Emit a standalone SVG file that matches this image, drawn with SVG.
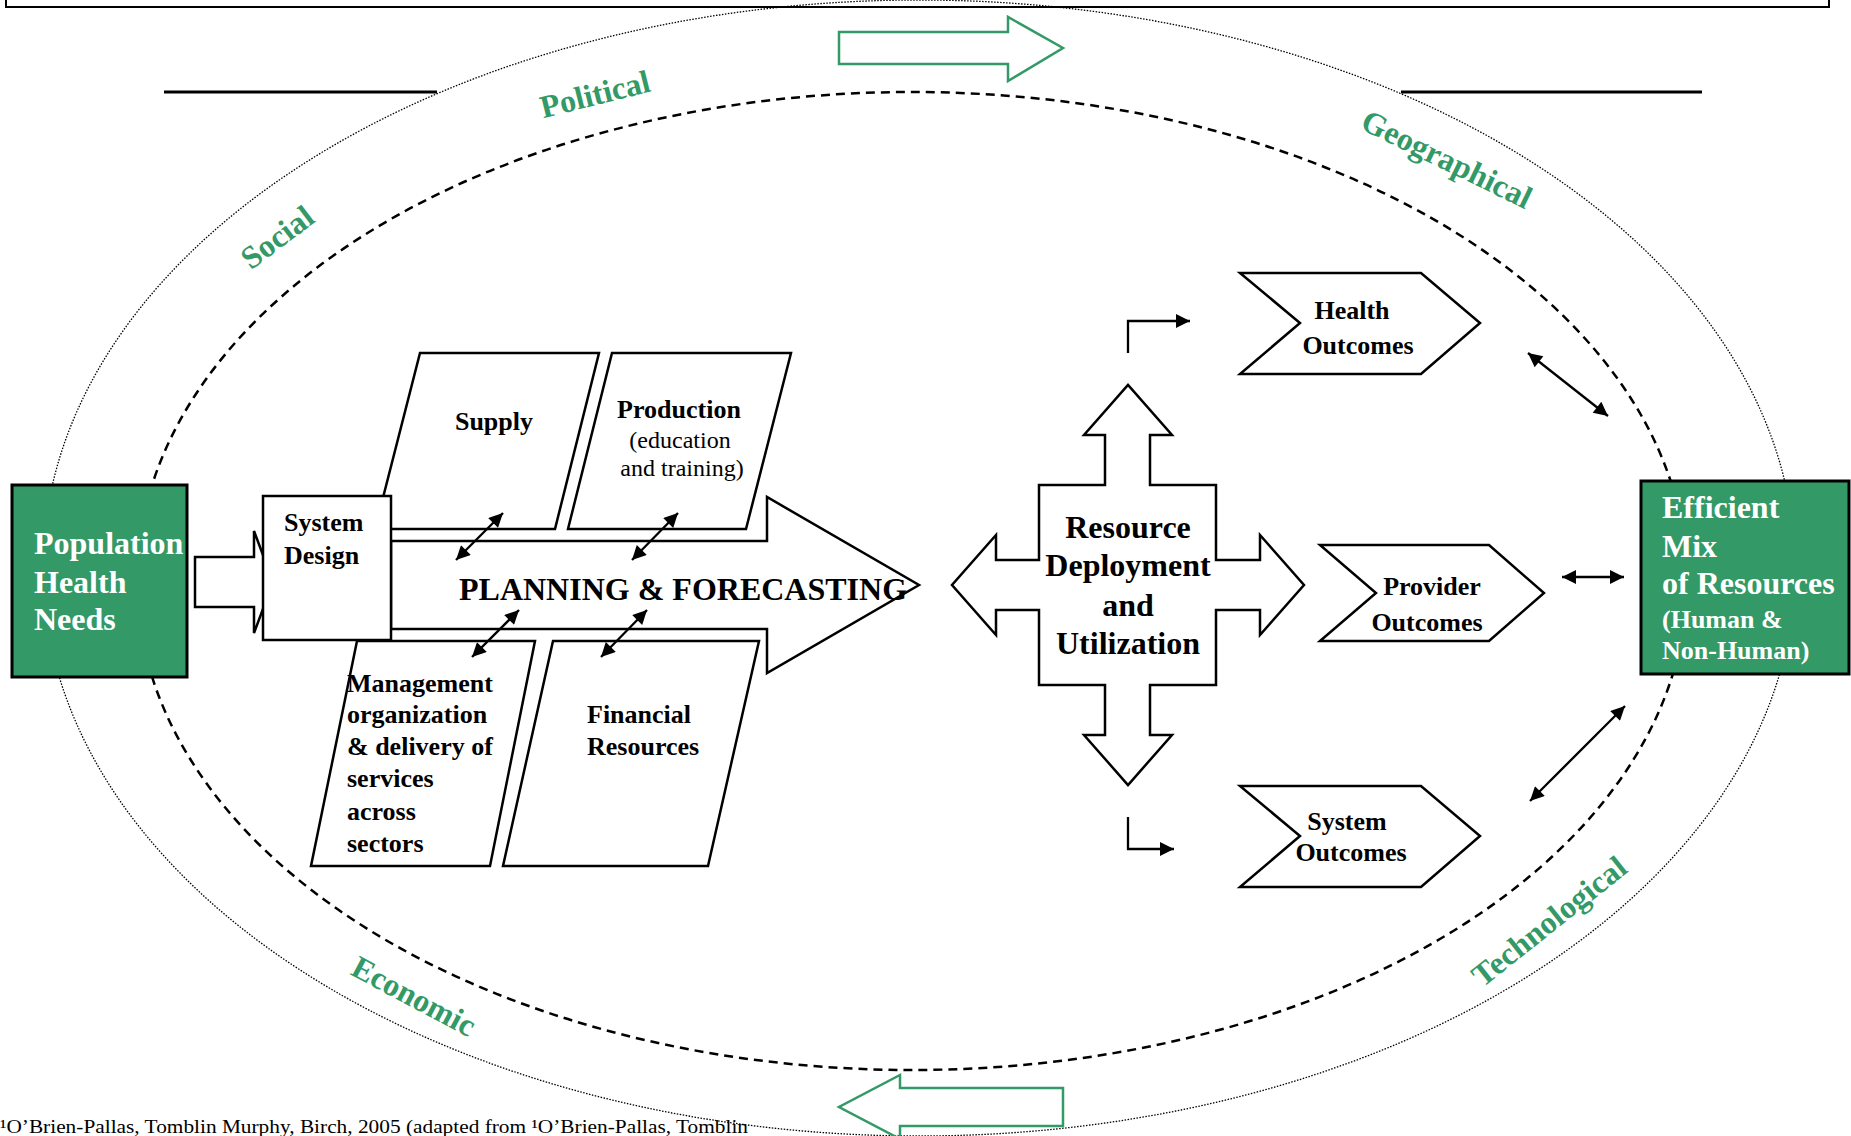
<svg xmlns="http://www.w3.org/2000/svg" width="1851" height="1136" viewBox="0 0 1851 1136">
<defs>
<style>
.shape{fill:#fff;stroke:#000;stroke-width:2.5;stroke-linejoin:miter}
.green{fill:#339966;stroke:#000;stroke-width:3}
.garrow{fill:none;stroke:#339966;stroke-width:2.5}
.t{font-family:"Liberation Serif","Times New Roman",serif;font-weight:bold;fill:#000}
.w{font-family:"Liberation Serif","Times New Roman",serif;font-weight:bold;fill:#fff}
.r{font-family:"Liberation Serif","Times New Roman",serif;font-weight:normal;fill:#000}
.g{font-family:"Liberation Serif","Times New Roman",serif;font-weight:bold;fill:#339966;font-size:32px;text-anchor:middle}
.c{text-anchor:middle}
.conn{stroke:#000;stroke-width:2.3;fill:none}
</style>
<marker id="ah" viewBox="0 0 10 10" refX="10" refY="5" markerWidth="16" markerHeight="14" markerUnits="userSpaceOnUse" orient="auto-start-reverse">
<path d="M0,0 L10,5 L0,10 z" fill="#000"/>
</marker>
</defs>
<rect width="1851" height="1136" fill="#fff"/>

<g id="frame">
<rect x="6" y="-12" width="1823" height="19" fill="none" stroke="#000" stroke-width="2"/>
<line x1="164" y1="92" x2="437" y2="92" stroke="#000" stroke-width="3"/>
<line x1="1401" y1="92" x2="1702" y2="92" stroke="#000" stroke-width="3"/>
<ellipse cx="919" cy="568" rx="876" ry="568" fill="none" stroke="#000" stroke-width="1.3" stroke-dasharray="1.5,1.5"/>
<ellipse cx="912" cy="581" rx="775" ry="489" fill="none" stroke="#000" stroke-width="2.5" stroke-dasharray="9,6"/>
</g>

<g id="env-arrows">
<path class="garrow" d="M839,32 L1008,32 L1008,17 L1063,48 L1008,81 L1008,64 L839,64 Z"/>
<path class="garrow" d="M1063,1088 L900,1088 L900,1075 L839,1107 L900,1139 L900,1126 L1063,1126 Z"/>
</g>

<g id="env-labels">
<text class="g" transform="rotate(-14 595 94)" x="595" y="105">Political</text>
<text class="g" transform="rotate(-37 277 237)" x="277" y="248">Social</text>
<text class="g" transform="rotate(26 1447 159)" x="1447" y="170">Geographical</text>
<text class="g" transform="rotate(28 414 996)" x="414" y="1007">Economic</text>
<text class="g" transform="rotate(-38.5 1549 921)" x="1549" y="932">Technological</text>
</g>

<g id="supply">
<path class="shape" d="M420,353 L599,353 L555,529 L375,529 Z"/>
<text class="t c" x="494" y="430" font-size="26">Supply</text>
</g>
<g id="production">
<path class="shape" d="M612,353 L791,353 L746,529 L568,529 Z"/>
<text class="t c" x="679" y="418" font-size="26">Production</text>
<text class="r c" x="680" y="448" font-size="24">(education</text>
<text class="r c" x="682" y="476" font-size="24">and training)</text>
</g>
<g id="management">
<path class="shape" d="M357,641 L535,641 L490,866 L311,866 Z"/>
<text class="t" font-size="26"><tspan x="347" y="692">Management</tspan><tspan x="347" y="723">organization</tspan><tspan x="347" y="755">&amp; delivery of</tspan><tspan x="347" y="787">services</tspan><tspan x="347" y="820">across</tspan><tspan x="347" y="852">sectors</tspan></text>
</g>
<g id="financial">
<path class="shape" d="M553,641 L759,641 L708,866 L503,866 Z"/>
<text class="t" font-size="26"><tspan x="587" y="723">Financial</tspan><tspan x="587" y="755">Resources</tspan></text>
</g>

<g id="planning">
<path class="shape" d="M391,541 L767,541 L767,497 L919,585 L767,673 L767,629 L391,629 Z"/>
<text class="t" x="459" y="600" font-size="32">PLANNING &amp; FORECASTING</text>
</g>

<g id="population">
<rect class="green" x="12" y="485" width="175" height="192"/>
<text class="w" font-size="32"><tspan x="34" y="554">Population</tspan><tspan x="34" y="593">Health</tspan><tspan x="34" y="630">Needs</tspan></text>
</g>

<g id="input-arrow">
<path class="shape" d="M195,557 L254,557 L254,531 L273,582 L254,633 L254,607 L195,607 Z"/>
</g>

<g id="system-design">
<rect class="shape" x="263" y="496" width="128" height="144"/>
<text class="t" font-size="26"><tspan x="284" y="531">System</tspan><tspan x="284" y="564">Design</tspan></text>
</g>

<g id="resource-deployment">
<path class="shape" d="M1039,485 L1105,485 L1105,435 L1084,435 L1128,385 L1172,435 L1150,435 L1150,485 L1216,485 L1216,560 L1260,560 L1260,535 L1304,585 L1260,635 L1260,610 L1216,610 L1216,685 L1150,685 L1150,735 L1172,735 L1128,785 L1084,735 L1105,735 L1105,685 L1039,685 L1039,610 L996,610 L996,635 L952,585 L996,535 L996,560 L1039,560 Z"/>
<text class="t c" font-size="32"><tspan x="1128" y="538">Resource</tspan><tspan x="1128" y="576">Deployment</tspan><tspan x="1128" y="616">and</tspan><tspan x="1128" y="654">Utilization</tspan></text>
</g>

<g id="health-outcomes">
<path class="shape" d="M1240,273 L1421,273 L1480,323 L1421,374 L1240,374 L1300,323 Z"/>
<text class="t c" font-size="26"><tspan x="1352" y="319">Health</tspan><tspan x="1358" y="354">Outcomes</tspan></text>
</g>
<g id="provider-outcomes">
<path class="shape" d="M1320,545 L1489,545 L1544,593 L1489,641 L1320,641 L1376,593 Z"/>
<text class="t c" font-size="26"><tspan x="1432" y="595">Provider</tspan><tspan x="1427" y="631">Outcomes</tspan></text>
</g>
<g id="system-outcomes">
<path class="shape" d="M1240,786 L1421,786 L1480,836 L1421,887 L1240,887 L1300,836 Z"/>
<text class="t c" font-size="26"><tspan x="1347" y="830">System</tspan><tspan x="1351" y="861">Outcomes</tspan></text>
</g>

<g id="efficient-mix">
<rect class="green" x="1641" y="481" width="208" height="193"/>
<text class="w" font-size="32"><tspan x="1662" y="518">Efficient</tspan><tspan x="1662" y="557">Mix</tspan><tspan x="1662" y="594">of Resources</tspan></text>
<text class="w" font-size="26"><tspan x="1662" y="628">(Human &amp;</tspan><tspan x="1662" y="659">Non-Human)</tspan></text>
</g>

<g id="connectors">
<line class="conn" x1="456" y1="560" x2="503" y2="513" marker-start="url(#ah)" marker-end="url(#ah)"/>
<line class="conn" x1="632" y1="560" x2="678" y2="513" marker-start="url(#ah)" marker-end="url(#ah)"/>
<line class="conn" x1="472" y1="657" x2="519" y2="610" marker-start="url(#ah)" marker-end="url(#ah)"/>
<line class="conn" x1="601" y1="657" x2="647" y2="610" marker-start="url(#ah)" marker-end="url(#ah)"/>
<polyline class="conn" points="1128,353 1128,321 1190,321" marker-end="url(#ah)"/>
<polyline class="conn" points="1128,817 1128,849 1174,849" marker-end="url(#ah)"/>
<line class="conn" x1="1528" y1="353" x2="1608" y2="416" marker-start="url(#ah)" marker-end="url(#ah)"/>
<line class="conn" x1="1562" y1="577" x2="1624" y2="577" stroke-width="3" marker-start="url(#ah)" marker-end="url(#ah)"/>
<line class="conn" x1="1530" y1="801" x2="1625" y2="706" marker-start="url(#ah)" marker-end="url(#ah)"/>
</g>

<g id="footnote">
<text class="r" x="0" y="1133" font-size="19" textLength="748" lengthAdjust="spacingAndGlyphs">¹O’Brien-Pallas, Tomblin Murphy, Birch, 2005 (adapted from ¹O’Brien-Pallas, Tomblin</text>
</g>
</svg>
